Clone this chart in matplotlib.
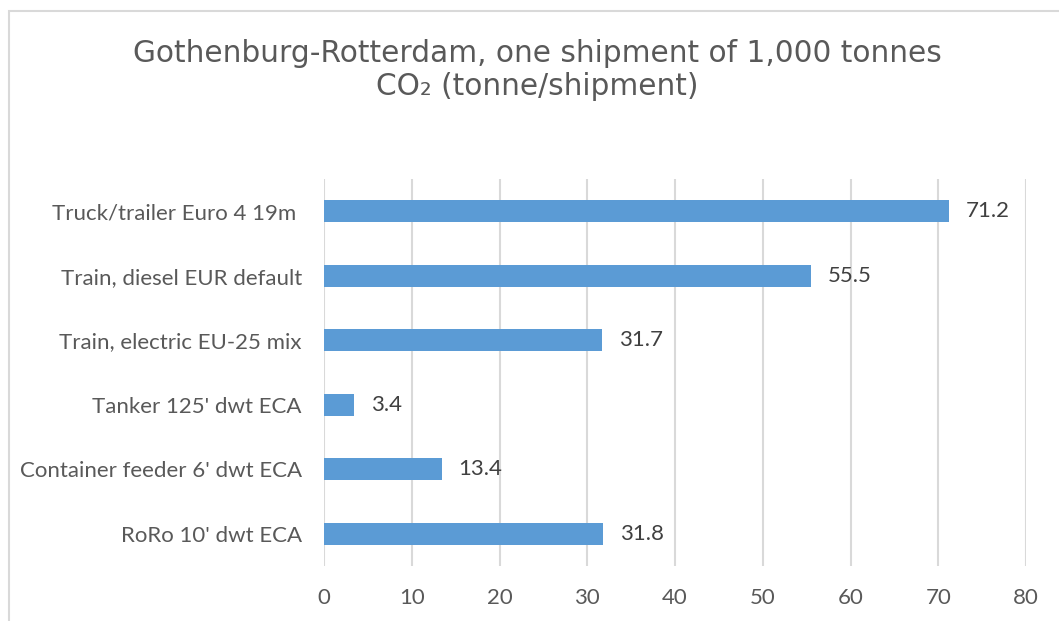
import matplotlib.pyplot as plt
from matplotlib.patches import Rectangle

# data (top to bottom)
categories = ["Truck/trailer Euro 4 19m ", "Train, diesel EUR default",
              "Train, electric EU-25 mix", "Tanker 125' dwt ECA",
              "Container feeder 6' dwt ECA", "RoRo 10' dwt ECA"]
co2_values = [71.2, 55.5, 31.7, 3.4, 13.4, 31.8]
x_ticks = [0, 10, 20, 30, 40, 50, 60, 70, 80]

label_font = ["Lato", "DejaVu Sans"]

fig = plt.figure(figsize=(10.59, 6.21), dpi=100)
ax = fig.add_axes([0.306, 0.0886, 0.663, 0.6234])

# outer chart border (light grey, partly off the image)
fig.patches.append(Rectangle((0.0085, -0.2), 1.5, 0.2 + 0.982, transform=fig.transFigure,
                             fill=False, edgecolor="#d9d9d9", linewidth=1.5))

ypos = list(range(len(categories)))[::-1]
ax.barh(ypos, co2_values, height=0.34, color="#5b9bd5", zorder=3)

for y, v in zip(ypos, co2_values):
    ax.text(v + 1.9, y, f"{v:.1f}", va="center", ha="left", fontsize=16,
            color="#404040", family=label_font)

ax.set_xlim(0, 80)
ax.set_ylim(-0.5, len(categories) - 0.5)
ax.set_xticks(x_ticks)
ax.set_xticklabels([str(t) for t in x_ticks])
ax.set_yticks(ypos)
ax.set_yticklabels(categories)

for lab in ax.get_xticklabels() + ax.get_yticklabels():
    lab.set_family(label_font)
    lab.set_fontsize(16)
    lab.set_color("#595959")

ax.tick_params(axis="both", length=0)
ax.tick_params(axis="x", pad=16)
ax.tick_params(axis="y", pad=16)
ax.grid(axis="x", color="#d9d9d9", linewidth=1.5, zorder=0)
for s in ax.spines.values():
    s.set_visible(False)

fig.text(0.5076, 0.914, "Gothenburg-Rotterdam, one shipment of 1,000 tonnes",
         ha="center", va="center", fontsize=21.3, color="#595959", family="DejaVu Sans")
fig.text(0.5076, 0.861, "CO\u2082 (tonne/shipment)",
         ha="center", va="center", fontsize=21.3, color="#595959", family="DejaVu Sans")

fig.savefig("out.png", dpi=100)
